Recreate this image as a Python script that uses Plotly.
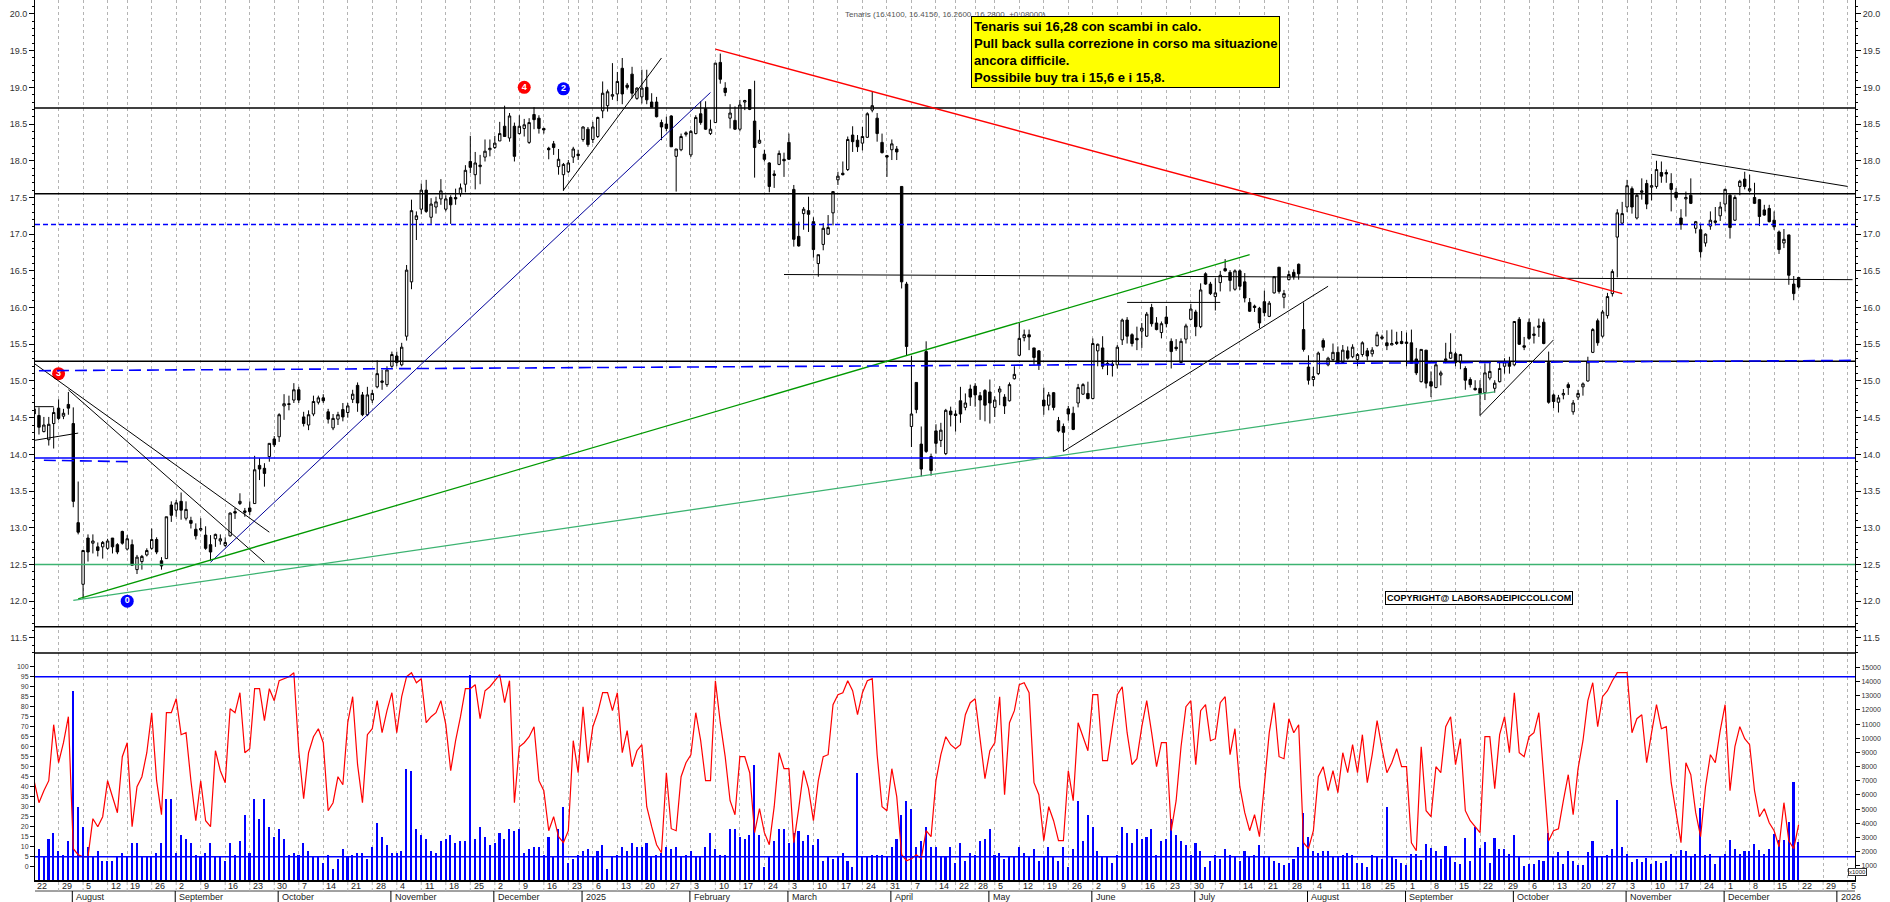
import pandas as pd
import plotly.graph_objects as go

# ---------------- data ----------------
HOLIDAYS = ["2024-08-15", "2024-12-24", "2024-12-25", "2024-12-26", "2024-12-31",
            "2025-01-01", "2025-04-18", "2025-04-21", "2025-05-01", "2025-08-15"]
FIRST_DAY, LAST_DAY, AXIS_END = "2024-07-22", "2025-12-22", "2026-01-09"

OPEN = [
14.62,14.53,14.31,14.20,14.42,14.63,14.52,14.68,14.42,13.07,
12.23,12.86,12.79,12.74,12.74,12.72,12.86,12.77,12.95,12.71,
12.77,12.43,12.54,12.63,12.72,12.84,12.55,12.58,13.31,13.24,
13.36,13.13,13.10,12.98,12.97,12.90,12.77,12.85,12.82,12.76,
12.89,13.22,13.33,13.23,13.27,13.33,13.85,13.81,13.97,14.21,
14.24,14.66,14.69,14.74,14.88,14.51,14.40,14.55,14.71,14.77,
14.58,14.36,14.48,14.61,14.57,14.75,14.94,14.81,14.54,14.74,
14.92,14.98,14.95,15.20,15.34,15.22,15.61,16.35,17.20,17.34,
17.60,17.23,17.37,17.48,17.34,17.50,17.50,17.55,17.68,17.99,
17.81,17.92,18.05,18.15,18.18,18.27,18.47,18.31,18.47,18.37,
18.44,18.25,18.63,18.58,18.44,18.17,18.23,17.92,17.81,17.85,
18.05,18.09,18.29,18.43,18.29,18.33,18.68,18.75,18.88,18.91,
19.26,19.03,19.18,18.85,18.87,19.00,18.80,18.80,18.52,18.50,
18.61,18.06,18.15,18.36,18.08,18.37,18.64,18.71,18.37,18.52,
19.34,18.99,18.58,18.55,18.43,18.80,18.97,18.54,18.24,18.09,
17.97,17.82,17.95,18.02,18.25,17.61,16.97,17.28,17.32,17.17,
16.60,16.86,17.00,17.29,17.74,17.83,17.88,18.35,18.28,18.24,
18.32,18.69,18.58,18.25,18.07,18.15,18.16,17.65,16.32,14.38,
14.98,14.14,15.40,13.97,14.32,14.19,14.01,14.59,14.55,14.73,
14.64,14.89,14.93,14.80,14.87,14.85,14.64,14.85,14.78,14.73,
15.03,15.35,15.59,15.63,15.45,15.41,14.74,14.67,14.84,14.46,
14.38,14.62,14.56,14.70,14.82,14.83,14.76,15.41,15.45,15.24,
15.23,15.22,15.56,15.83,15.63,15.58,15.68,15.61,16.00,15.79,
15.66,15.87,15.54,15.46,15.25,15.57,15.84,15.94,15.74,16.46,
16.32,16.15,16.34,16.53,16.48,16.25,16.50,16.35,16.07,16.02,
15.99,16.08,15.88,16.20,16.55,16.14,16.38,16.48,16.59,15.70,
15.19,15.02,15.10,15.55,15.22,15.29,15.39,15.25,15.41,15.33,
15.29,15.36,15.41,15.37,15.48,15.58,15.52,15.49,15.53,15.54,
15.51,15.52,15.30,14.99,15.42,14.99,14.91,15.08,15.28,15.31,
15.37,15.25,15.17,15.02,14.90,14.90,14.84,15.04,14.90,14.99,
15.20,15.26,15.22,15.84,15.48,15.80,15.62,15.73,15.80,15.25,
14.81,14.71,14.81,14.95,14.58,14.78,14.92,15.00,15.39,15.82,
15.61,15.89,16.19,16.96,17.15,17.37,17.62,17.22,17.57,17.69,
17.64,17.65,17.84,17.84,17.69,17.57,17.22,17.48,17.53,17.08,
17.06,16.88,17.11,17.16,17.25,17.41,17.53,17.19,17.65,17.75,
17.59,17.50,17.47,17.33,17.35,17.19,17.03,16.88,16.99,16.32,
16.41]

HIGH = [
14.66,14.64,14.51,14.51,14.64,14.75,14.62,14.85,14.64,13.63,
12.70,12.91,12.91,12.80,12.82,12.85,12.86,12.79,12.96,12.90,
12.84,12.63,12.63,12.72,12.99,12.87,12.60,13.15,13.36,13.38,
13.48,13.36,13.15,13.06,13.13,13.02,12.90,12.92,12.91,12.87,
13.21,13.27,13.47,13.27,13.36,13.98,13.95,13.88,14.15,14.25,
14.56,14.82,14.80,14.97,14.92,14.58,14.60,14.80,14.80,14.82,
14.62,14.55,14.58,14.70,14.70,14.88,14.98,14.85,14.92,14.88,
15.28,15.15,15.20,15.40,15.40,15.52,16.58,17.47,17.31,17.69,
17.74,17.49,17.51,17.75,17.53,17.53,17.62,17.69,17.94,18.34,
18.12,18.08,18.29,18.29,18.34,18.53,18.75,18.65,18.52,18.62,
18.57,18.58,18.73,18.62,18.45,18.19,18.27,18.16,17.97,18.01,
18.19,18.15,18.47,18.46,18.53,18.60,19.08,18.97,19.33,19.21,
19.40,19.06,19.28,19.00,19.24,19.24,18.92,18.87,18.56,18.60,
18.62,18.16,18.37,18.40,18.42,18.62,18.81,18.81,18.56,19.33,
19.46,19.07,18.77,18.74,18.83,18.83,18.97,19.09,18.42,18.15,
17.98,17.87,18.14,18.11,18.37,17.67,17.17,17.37,17.51,17.23,
16.72,17.15,17.26,17.58,17.85,17.99,18.33,18.47,18.35,18.46,
18.66,18.95,18.65,18.37,18.08,18.29,18.20,17.65,16.35,15.34,
14.98,14.38,15.54,14.01,14.41,14.43,14.62,14.65,14.60,14.92,
14.83,14.95,14.97,14.85,14.89,15.02,14.79,14.93,14.82,14.98,
15.20,15.79,15.70,15.70,15.45,15.42,14.91,14.85,14.85,14.51,
14.42,14.66,14.65,14.96,14.97,14.99,15.58,15.51,15.61,15.28,
15.28,15.49,15.85,15.87,15.65,15.74,15.79,15.94,16.05,15.87,
15.81,16.02,15.58,15.57,15.58,15.78,16.05,15.97,16.33,16.48,
16.35,16.40,16.50,16.66,16.51,16.52,16.52,16.47,16.13,16.04,
16.01,16.23,16.09,16.43,16.55,16.24,16.50,16.52,16.60,16.07,
15.35,15.19,15.40,15.58,15.33,15.51,15.47,15.49,15.47,15.50,
15.38,15.54,15.45,15.46,15.67,15.63,15.69,15.70,15.67,15.68,
15.66,15.70,15.45,15.43,15.42,15.13,15.25,15.14,15.52,15.65,
15.40,15.37,15.20,15.05,15.01,15.01,15.24,15.25,15.01,15.26,
15.31,15.33,15.81,15.87,15.60,15.85,15.74,15.85,15.85,15.40,
14.83,14.81,14.89,14.98,14.74,14.88,14.98,15.33,15.72,15.85,
15.97,16.20,16.52,17.34,17.44,17.74,17.65,17.55,17.76,17.74,
17.82,18.00,17.99,17.88,17.83,17.63,17.34,17.58,17.76,17.18,
17.14,17.01,17.31,17.37,17.44,17.62,17.56,17.53,17.74,17.85,
17.81,17.70,17.48,17.40,17.40,17.31,17.05,17.07,16.99,16.43,
16.415]

LOW = [
14.50,14.27,14.30,14.12,14.08,14.47,14.48,14.54,13.28,12.91,
12.03,12.54,12.65,12.61,12.58,12.70,12.65,12.64,12.77,12.69,
12.49,12.37,12.43,12.61,12.70,12.64,12.43,12.58,13.08,13.15,
13.11,13.10,12.99,12.84,12.95,12.70,12.55,12.74,12.77,12.74,
12.88,13.12,13.31,13.15,13.17,13.33,13.65,13.56,13.90,14.10,
14.17,14.47,14.60,14.70,14.70,14.38,14.33,14.52,14.68,14.70,
14.42,14.33,14.40,14.45,14.50,14.70,14.58,14.52,14.52,14.70,
14.90,14.88,14.92,15.18,15.20,15.20,15.55,16.25,16.92,17.27,
17.29,17.14,17.28,17.40,17.31,17.14,17.40,17.51,17.57,17.83,
17.61,17.68,17.99,18.06,18.16,18.27,18.33,18.26,17.99,18.36,
18.33,18.23,18.43,18.37,18.37,18.02,18.08,17.81,17.59,17.83,
17.97,18.01,18.26,18.19,18.24,18.31,18.58,18.67,18.83,18.81,
18.77,18.97,18.85,18.83,18.78,18.77,18.73,18.59,18.28,18.40,
18.19,17.58,18.13,18.33,18.05,18.36,18.49,18.42,18.35,18.52,
19.05,18.88,18.44,18.42,18.40,18.69,18.69,17.77,18.23,17.99,
17.57,17.63,17.94,17.78,18.01,16.83,16.83,17.06,17.03,16.68,
16.42,16.78,16.99,17.12,17.67,17.80,17.86,18.12,18.12,18.14,
18.31,18.66,18.26,18.10,17.78,18.01,18.01,16.26,15.35,14.10,
14.56,13.70,14.02,13.71,14.01,14.10,13.99,14.38,14.31,14.43,
14.60,14.66,14.65,14.47,14.45,14.42,14.51,14.67,14.55,14.72,
15.02,15.34,15.54,15.42,15.22,15.15,14.54,14.60,14.60,14.30,
14.04,14.46,14.33,14.64,14.81,14.75,14.75,15.20,15.16,15.08,
15.06,15.17,15.49,15.51,15.47,15.42,15.45,15.60,15.74,15.69,
15.58,15.73,15.17,15.41,15.24,15.51,15.83,15.61,15.72,16.31,
16.17,15.96,16.22,16.49,16.22,16.23,16.24,16.07,15.94,15.94,
15.72,15.88,15.87,16.19,16.19,15.99,16.37,16.38,16.38,15.40,
14.95,14.93,15.08,15.41,15.20,15.26,15.24,15.24,15.29,15.31,
15.20,15.33,15.28,15.33,15.47,15.56,15.42,15.49,15.49,15.50,
15.20,15.24,15.08,14.98,14.90,14.78,14.90,14.94,15.24,15.30,
15.20,15.16,14.88,14.91,14.87,14.53,14.74,15.01,14.84,14.98,
15.10,15.10,15.20,15.49,15.42,15.56,15.51,15.60,15.50,14.69,
14.63,14.57,14.75,14.81,14.54,14.74,14.80,14.99,15.38,15.48,
15.59,15.85,16.15,16.41,17.14,17.30,17.28,17.20,17.47,17.34,
17.46,17.62,17.70,17.70,17.31,17.47,17.06,17.24,17.41,17.01,
16.68,16.83,17.06,17.12,17.18,17.31,16.94,17.18,17.53,17.61,
17.57,17.41,17.11,17.25,17.16,17.06,16.73,16.81,16.31,16.10,
16.26]

CLOSE = [
14.55,14.37,14.40,14.41,14.57,14.49,14.56,14.63,13.36,12.94,
12.69,12.67,12.82,12.69,12.80,12.82,12.74,12.67,12.79,12.85,
12.49,12.60,12.61,12.69,12.84,12.67,12.48,13.15,13.17,13.34,
13.24,13.25,13.06,12.89,12.99,12.72,12.67,12.91,12.85,12.80,
13.20,13.20,13.36,13.21,13.22,13.79,13.80,13.74,14.15,14.13,
14.54,14.69,14.68,14.88,14.74,14.42,14.54,14.72,14.77,14.73,
14.48,14.49,14.54,14.51,14.66,14.82,14.70,14.54,14.81,14.83,
15.10,15.00,15.15,15.36,15.25,15.46,16.51,17.32,17.25,17.60,
17.31,17.41,17.44,17.59,17.48,17.40,17.48,17.63,17.87,17.91,
17.97,17.94,18.13,18.17,18.24,18.37,18.33,18.61,18.06,18.47,
18.49,18.52,18.56,18.44,18.42,18.15,18.18,18.02,17.95,17.97,
18.16,18.07,18.46,18.22,18.46,18.59,18.92,18.94,18.90,19.08,
18.91,19.00,18.92,18.99,18.99,18.83,18.73,18.60,18.46,18.44,
18.19,18.16,18.33,18.38,18.40,18.59,18.52,18.43,18.43,19.33,
19.11,18.93,18.65,18.43,18.76,18.82,18.70,18.18,18.28,18.02,
17.65,17.80,18.10,18.00,18.02,16.93,16.84,17.34,17.27,16.79,
16.72,17.08,17.09,17.58,17.79,17.81,18.29,18.26,18.19,18.33,
18.64,18.75,18.37,18.11,18.05,18.23,18.12,16.35,15.47,14.55,
14.61,13.80,14.04,13.78,14.15,14.33,14.60,14.54,14.53,14.55,
14.70,14.78,14.81,14.74,14.67,14.70,14.74,14.89,14.66,14.95,
15.09,15.58,15.63,15.60,15.32,15.22,14.66,14.81,14.64,14.32,
14.30,14.55,14.34,14.91,14.95,14.76,15.51,15.50,15.20,15.22,
15.21,15.46,15.83,15.61,15.51,15.56,15.72,15.91,15.78,15.70,
15.78,15.78,15.40,15.44,15.54,15.75,15.98,15.74,16.24,16.32,
16.19,16.20,16.44,16.50,16.37,16.50,16.29,16.13,15.95,16.00,
15.79,15.93,16.06,16.42,16.22,16.19,16.45,16.42,16.46,15.43,
15.01,15.06,15.38,15.46,15.31,15.39,15.25,15.42,15.31,15.46,
15.36,15.52,15.34,15.42,15.63,15.60,15.48,15.51,15.51,15.51,
15.53,15.24,15.11,15.43,14.97,14.93,15.22,15.11,15.30,15.39,
15.25,15.36,15.01,14.95,14.88,14.83,15.11,15.13,14.97,15.17,
15.26,15.20,15.81,15.50,15.46,15.58,15.64,15.75,15.51,14.71,
14.72,14.77,14.83,14.91,14.70,14.83,14.96,15.26,15.70,15.52,
15.94,16.15,16.49,17.29,17.28,17.66,17.37,17.53,17.59,17.41,
17.66,17.88,17.79,17.82,17.61,17.50,17.13,17.50,17.42,17.17,
16.76,17.00,17.19,17.18,17.37,17.61,17.09,17.50,17.72,17.65,
17.62,17.42,17.24,17.26,17.17,17.10,16.79,16.93,16.44,16.19,
16.28]

VOLUME = [  # thousands of shares
1930,2210,1720,2920,3340,2070,1790,2780,13370,5180,
3760,2350,1650,2070,1360,1360,1360,1650,1930,1650,
2640,2640,1650,1650,1650,1930,2640,5740,5740,1930,
3200,2920,2640,1790,1650,1930,2640,1650,1650,1360,
2640,1790,2780,4610,1930,5740,4330,5740,3760,3060,
3620,2920,1790,1930,1790,2640,2070,1650,1650,1220,
1790,800,1510,2210,1650,1790,1930,1930,1510,2350,
4050,3060,2490,1930,1930,2070,7860,7720,3620,3200,
2920,2070,1930,2780,2920,3200,2640,2780,2780,14500,
2920,3760,3060,2490,2640,3340,2920,3620,3480,3620,
1930,2210,2350,2350,1790,3060,1650,3620,5180,1220,
1510,1790,2070,2210,1650,2070,2490,800,1650,1790,
2350,2070,2640,2350,2350,2640,1650,1790,1930,2350,
2210,2350,1650,1790,2070,1650,1650,2350,3340,2210,
1790,1790,3620,3620,3060,2920,3200,8140,3200,940,
1650,2780,3620,3620,2640,3340,3480,2780,3200,2490,
2920,1360,1650,1510,1650,1930,1360,940,7580,1650,
1650,1790,1790,1790,1650,2350,2920,4610,5600,5040,
2350,2780,3760,2350,2350,1650,1650,2350,1220,2640,
1360,1930,1790,2780,2920,3620,1790,1930,1510,1650,
1650,2350,1930,1650,2210,1360,1650,2350,1650,1360,
2350,940,2210,5600,2780,4610,3760,2070,1650,1650,
1220,1790,3760,3340,2640,3620,2920,3060,3620,1790,
2780,2920,4330,3200,2780,2490,1790,2640,2070,940,
1360,1790,1510,2210,1790,1650,1360,2070,1650,1790,
2490,1650,1650,1360,1220,1080,1220,1510,2350,4750,
3060,2070,1930,2070,2070,1650,1650,1790,1930,1790,
1220,1220,940,1790,1650,1510,5180,1650,1510,1210,
1050,1820,1820,1400,2530,2290,2060,1470,2390,1640,
1280,1120,2930,1350,3750,2290,2690,1210,2930,2220,
2220,1870,3210,1640,980,1120,1120,1400,1350,3330,
1640,1960,1120,2060,1350,1050,1050,1960,2740,1640,
1640,1750,2180,5640,2320,1800,1280,1450,1280,1520,
1120,1330,1210,1330,1870,1640,2150,2040,1640,1870,
5050,1750,1870,1120,1640,1870,2810,2220,1870,2040,
2040,2530,2110,1820,2180,3240,2810,2810,4110,6930,
2690]

OSCILLATOR = [
43,32,38,43,71,52,62,75,9,6,
5,5,24,20,25,43,35,27,55,62,
20,40,45,57,77,43,26,77,77,84,
66,67,43,23,43,23,20,58,48,42,
79,77,87,57,59,89,89,73,89,83,
93,94,95,97,58,34,57,65,69,62,
28,32,45,41,72,85,51,32,66,69,
83,67,78,87,67,85,95,97,92,94,
72,75,77,83,71,48,63,75,89,89,
91,74,88,90,93,96,82,93,32,60,
62,65,70,43,38,18,25,15,12,18,
63,47,80,52,70,77,87,87,78,87,
57,68,50,58,61,30,20,11,7,47,
19,18,45,52,56,77,63,43,43,93,
72,55,33,26,55,55,47,17,29,17,
11,30,57,49,49,12,29,48,39,23,
43,55,56,81,86,87,93,88,76,87,
93,94,56,30,28,49,35,6,3,4,
6,4,18,15,43,56,65,61,59,61,
76,82,84,63,44,58,62,85,36,72,
78,91,92,87,42,36,13,30,23,13,
13,48,33,72,65,58,86,86,53,53,
70,86,90,67,51,54,70,83,67,50,
62,62,18,33,60,80,83,51,78,81,
63,64,82,85,56,69,40,27,18,26,
15,43,67,82,55,54,74,67,71,12,
9,18,45,50,38,48,37,57,47,61,
47,66,42,56,73,59,47,52,59,50,
50,12,8,60,28,25,50,47,70,75,
51,64,28,23,20,17,65,65,39,66,
75,57,87,57,55,65,67,77,45,13,
18,19,33,46,26,49,63,83,92,70,
85,88,93,97,97,97,67,74,76,52,
67,81,69,70,42,27,12,52,46,27,
15,40,56,52,68,81,38,60,70,64,
61,38,25,29,22,18,10,32,13,9,
21]

LAST_QUOTE = (16.41, 16.415, 16.26, 16.28, 0.08)
NOTE_LINES = ["Tenaris sui 16,28 con scambi in calo.",
              "Pull back sulla correzione in corso ma situazione",
              "ancora difficile.",
              "Possibile buy tra i 15,6 e i 15,8."]
COPYRIGHT = "COPYRIGHT@ LABORSADEIPICCOLI.COM"

LEVELS_BLACK = [18.72, 17.55, 15.27, 11.65]
LEVEL_BLUE = 13.95
LEVEL_BLUE_DOTTED = 17.13
LEVEL_GREEN = 12.50
OSC_LEVELS = [95, 5]

TRENDS_BLACK = [("2024-07-22", 15.24, "2024-09-27", 12.94),
                ("2024-07-31", 14.88, "2024-09-26", 12.53),
                ("2024-07-22", 14.19, "2024-08-02", 14.29),
                ("2024-07-22", 14.65, "2024-07-26", 14.65),
                ("2024-12-20", 17.60, "2025-01-24", 19.40),
                ("2025-05-23", 14.04, "2025-08-07", 16.29),
                ("2025-06-11", 16.07, "2025-07-08", 16.07),
                ("2025-09-22", 14.53, "2025-10-13", 15.56),
                ("2025-11-10", 18.09, "2026-01-05", 17.65),
                ("2025-02-28", 16.45, "2026-01-06", 16.38)]
TRENDS_RED = [("2025-02-10", 19.52, "2025-10-31", 16.19)]
TRENDS_NAVY = [("2024-09-11", 12.53, "2025-02-07", 18.93)]
TRENDS_GREEN = [("2024-08-02", 12.03, "2025-07-16", 16.72)]
TRENDS_SEAGREEN = [("2024-08-01", 12.01, "2025-09-25", 14.85)]
TRENDS_BLUE_DASHED = [("2024-07-23", 15.14, "2026-01-06", 15.28),
                      ("2024-07-24", 13.92, "2024-08-20", 13.90)]

MARKS = [("4", "2024-12-10", 19.00, "#ff0000"), ("2", "2024-12-20", 18.98, "#0000ff"),
         ("3", "2024-07-29", 15.10, "#ff0000"), ("0", "2024-08-19", 12.00, "#0000ff")]

MONTH_NAMES = ["January", "February", "March", "April", "May", "June", "July",
               "August", "September", "October", "November", "December"]

# ---------------- axis of trading days ----------------
days = [d for d in pd.bdate_range(FIRST_DAY, LAST_DAY) if d.strftime("%Y-%m-%d") not in HOLIDAYS]
future = list(pd.bdate_range(pd.Timestamp(LAST_DAY) + pd.Timedelta(days=1), AXIS_END))
axis_days = days + future
pos = {d.strftime("%Y-%m-%d"): i for i, d in enumerate(axis_days)}
xi = list(range(len(days)))
XR = [0.19, 371.5]

W, H = 1890, 902
def py(px):
    return (H - px) / H

week_idx = []
prev = None
for i, d in enumerate(axis_days):
    key = tuple(d.isocalendar())[:2]
    if key != prev:
        if i <= XR[1]:
            week_idx.append(i)
        prev = key

month_marks = []
prevm = None
for i, d in enumerate(axis_days):
    if (d.year, d.month) != prevm:
        if prevm is not None and i <= XR[1]:
            name = str(d.year) if d.month == 1 else MONTH_NAMES[d.month - 1]
            month_marks.append((i, name))
        prevm = (d.year, d.month)

fig = go.Figure()

fig.add_trace(go.Candlestick(
    x=xi, open=OPEN, high=HIGH, low=LOW, close=CLOSE, xaxis="x", yaxis="y",
    increasing=dict(line=dict(color="black", width=1), fillcolor="white"),
    decreasing=dict(line=dict(color="black", width=1), fillcolor="black"),
    whiskerwidth=0, hoverinfo="skip", showlegend=False))

# dummy trace to show right price axis
fig.add_trace(go.Scatter(x=[XR[0]], y=[15], xaxis="x", yaxis="y4", mode="markers",
                         marker=dict(opacity=0), hoverinfo="skip", showlegend=False))

fig.add_trace(go.Bar(x=xi, y=VOLUME, xaxis="x2", yaxis="y2", width=0.32,
                     marker=dict(color="#0000ff", line=dict(width=0)),
                     hoverinfo="skip", showlegend=False))
fig.add_trace(go.Scatter(x=xi, y=OSCILLATOR, xaxis="x2", yaxis="y3", mode="lines",
                         line=dict(color="#ff0000", width=1.2),
                         hoverinfo="skip", showlegend=False))

fig.add_trace(go.Scatter(
    x=[pos[m[1]] for m in MARKS], y=[m[2] for m in MARKS], xaxis="x", yaxis="y",
    mode="markers+text", text=[m[0] for m in MARKS], textposition="middle center",
    textfont=dict(color="white", size=9, family="Liberation Sans", weight="bold"),
    marker=dict(size=13, color=[m[3] for m in MARKS], line=dict(width=0)),
    hoverinfo="skip", showlegend=False))

shapes = []
for lv in LEVELS_BLACK:
    shapes.append(dict(type="line", xref="paper", yref="y", x0=0, x1=1, y0=lv, y1=lv,
                       line=dict(color="black", width=1.5)))
shapes.append(dict(type="line", xref="paper", yref="y", x0=0, x1=1, y0=LEVEL_BLUE, y1=LEVEL_BLUE,
                   line=dict(color="#0000ff", width=1.5)))
shapes.append(dict(type="line", xref="paper", yref="y", x0=0, x1=1, y0=LEVEL_BLUE_DOTTED,
                   y1=LEVEL_BLUE_DOTTED, line=dict(color="#0000ff", width=1.5, dash="5px,3px")))
shapes.append(dict(type="line", xref="paper", yref="y", x0=0, x1=1, y0=LEVEL_GREEN, y1=LEVEL_GREEN,
                   line=dict(color="#3cb371", width=1.5)))

def seg(lst, color, width=1, dash="solid"):
    for d0, p0, d1, p1 in lst:
        shapes.append(dict(type="line", xref="x", yref="y", x0=pos[d0], x1=pos[d1], y0=p0, y1=p1,
                           line=dict(color=color, width=width, dash=dash)))

seg(TRENDS_BLACK, "black", 1)
seg(TRENDS_RED, "#ff0000", 1.3)
seg(TRENDS_NAVY, "#000099", 1)
seg(TRENDS_GREEN, "#009900", 1.3)
seg(TRENDS_SEAGREEN, "#3cb371", 1.3)
seg(TRENDS_BLUE_DASHED, "#0000ff", 1.6, "12px,6px")

for lv in OSC_LEVELS:
    shapes.append(dict(type="line", xref="paper", yref="y3", x0=0, x1=1, y0=lv, y1=lv,
                       line=dict(color="#0000ff", width=1.5)))

# panel separator
shapes.append(dict(type="line", xref="paper", yref="paper", x0=0, x1=1, y0=py(653), y1=py(653),
                   line=dict(color="black", width=1.5)))
# date rows
shapes.append(dict(type="line", xref="paper", yref="paper", x0=0, x1=1, y0=py(891), y1=py(891),
                   line=dict(color="#444", width=1)))
for i in week_idx:
    shapes.append(dict(type="line", xref="x", yref="paper", x0=i, x1=i, y0=py(891), y1=py(880),
                       line=dict(color="#b4b4b4", width=1, dash="3px,3px")))
for i, name in month_marks:
    shapes.append(dict(type="line", xref="x", yref="paper", x0=i - 0.2, x1=i - 0.2, y0=0, y1=py(891),
                       line=dict(color="black", width=1)))

annotations = []
last_lab = -10
for i in week_idx:
    if i - last_lab < 3:
        continue
    last_lab = i
    annotations.append(dict(x=i + 0.25, y=py(886), xref="x", yref="paper", text=str(axis_days[i].day),
                            showarrow=False, xanchor="left", yanchor="middle",
                            font=dict(size=9, color="#222")))
for i, name in month_marks:
    annotations.append(dict(x=i + 0.2, y=py(897), xref="x", yref="paper", text=name,
                            showarrow=False, xanchor="left", yanchor="middle",
                            font=dict(size=9, color="#222")))

o, h, l, c, ch = LAST_QUOTE
annotations.append(dict(x=(945 - 35) / 1820, y=py(8), xref="paper", yref="paper",
                        text=f"Tenaris ({o:.4f}, {h:.4f}, {l:.4f}, {c:.4f}, +{ch:.5f})",
                        showarrow=False, font=dict(size=8, color="#555")))
annotations.append(dict(x=(971 - 35) / 1820, y=py(16), xref="paper", yref="paper",
                        text="<br>".join(NOTE_LINES), showarrow=False, xanchor="left", yanchor="top",
                        align="left", bgcolor="#ffff00", bordercolor="black", borderwidth=1, borderpad=2,
                        font=dict(size=13, color="black", family="Liberation Sans, Arial", weight="bold")))
annotations.append(dict(x=(1573 - 35) / 1820, y=py(597.5), xref="paper", yref="paper",
                        text=COPYRIGHT, showarrow=False, bgcolor="white", bordercolor="black",
                        borderwidth=1, borderpad=1,
                        font=dict(size=9, color="black", family="Liberation Sans, Arial", weight="bold")))
annotations.append(dict(x=(1867 - 35) / 1820, y=py(876), xref="paper", yref="paper",
                        text="x1000", showarrow=False, bgcolor="white", bordercolor="#333",
                        borderwidth=1, borderpad=0, font=dict(size=6, color="#222")))

axis_font = dict(size=9, color="#333")
small_font = dict(size=7, color="#333")
price_range = [11.294, 20.19]

fig.update_layout(
    width=W, height=H, margin=dict(l=35, r=35, t=0, b=0),
    paper_bgcolor="white", plot_bgcolor="white", showlegend=False,
    font=dict(family="Liberation Sans, Arial, sans-serif", color="#222"),
    bargap=0,
    xaxis=dict(domain=[0, 1], range=XR, anchor="y", tickmode="array", tickvals=week_idx,
               showticklabels=False, ticks="", showgrid=True, gridcolor="#b4b4b4", griddash="3px,3px",
               gridwidth=1, zeroline=False, showline=False, rangeslider=dict(visible=False)),
    xaxis2=dict(domain=[0, 1], range=XR, anchor="y2", matches="x", tickmode="array", tickvals=week_idx,
                showticklabels=False, ticks="", showgrid=True, gridcolor="#b4b4b4", griddash="3px,3px",
                gridwidth=1, zeroline=False, showline=True, linecolor="black", linewidth=1.5),
    yaxis=dict(domain=[py(653), 1], range=price_range, side="left", tickmode="linear", tick0=0, dtick=0.5,
               tickformat=".1f", ticks="outside", ticklen=5, tickcolor="black", tickfont=axis_font,
               showline=True, linecolor="black", linewidth=1, showgrid=False, zeroline=False,
               minor=dict(dtick=0.1, ticks="outside", ticklen=2, tickcolor="black", showgrid=False)),
    yaxis4=dict(overlaying="y", side="right", range=price_range, tickmode="linear", tick0=0, dtick=0.5,
                tickformat=".1f", ticks="outside", ticklen=5, tickcolor="black", tickfont=axis_font,
                showline=True, linecolor="black", linewidth=1, showgrid=False, zeroline=False,
                minor=dict(dtick=0.1, ticks="outside", ticklen=2, tickcolor="black", showgrid=False)),
    yaxis2=dict(domain=[py(880), py(653)], range=[0, 16017], side="right", tickmode="array",
                tickvals=list(range(1000, 15001, 1000)), tickformat="d", ticks="outside", ticklen=4,
                tickcolor="black", tickfont=small_font, showline=True, linecolor="black", linewidth=1,
                showgrid=False, zeroline=False),
    yaxis3=dict(overlaying="y2", side="left", range=[-6.65, 106.85], tickmode="array",
                tickvals=list(range(0, 101, 5)), ticks="outside", ticklen=4, tickcolor="black",
                tickfont=small_font, showline=True, linecolor="black", linewidth=1, showgrid=False,
                zeroline=False),
    shapes=shapes, annotations=annotations,
)

fig.write_html("out.html", config={"displayModeBar": False},
               post_script="document.body.style.margin='0px';document.body.style.overflow='hidden';")
